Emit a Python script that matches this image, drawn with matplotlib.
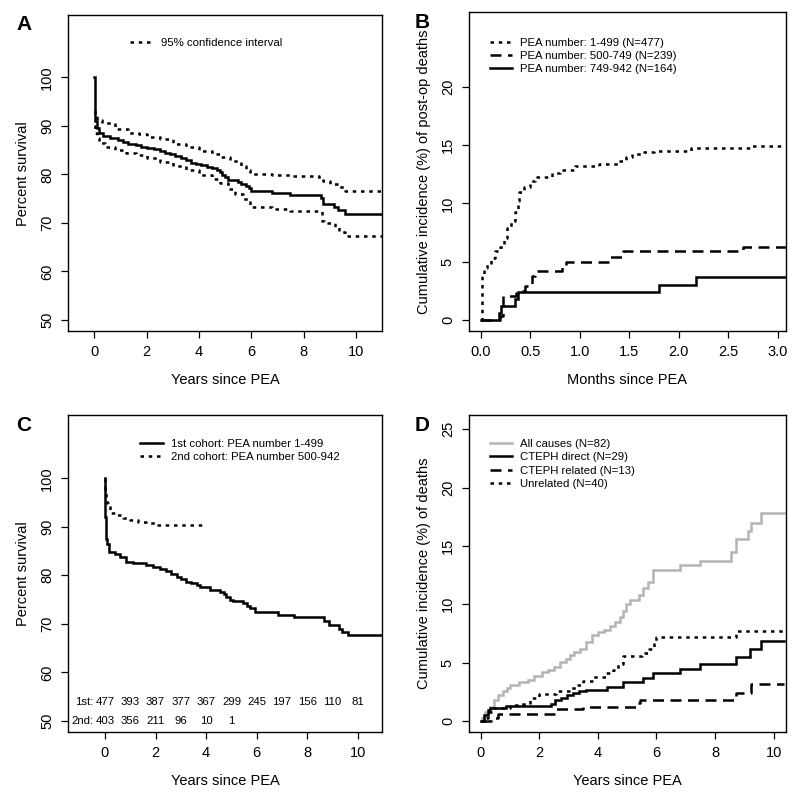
import matplotlib
matplotlib.use("Agg")
import matplotlib.pyplot as plt
from matplotlib.lines import Line2D

plt.rcParams["font.family"] = ["Liberation Sans", "DejaVu Sans"]

# ---- Panel A: overall survival with 95% CI (years)
a_t = [0, 0.02, 0.05, 0.1, 0.2, 0.35, 0.6, 0.9, 1.1, 1.3, 1.6, 1.8, 2.0, 2.3, 2.5,
       2.7, 2.9, 3.1, 3.3, 3.5, 3.7, 3.9, 4.1, 4.3, 4.5, 4.7, 4.8, 4.9, 5.0, 5.1,
       5.3, 5.5, 5.6, 5.8, 5.9, 6.0, 6.8, 7.5, 8.65, 8.75, 9.15, 9.3, 9.6]
a_surv = [100, 94, 91, 89.5, 88.5, 88.0, 87.5, 87.0, 86.6, 86.3, 86.1, 85.7, 85.4,
          85.2, 84.8, 84.4, 84.1, 83.7, 83.3, 82.9, 82.4, 82.1, 81.9, 81.6, 81.3,
          80.9, 80.4, 79.9, 79.4, 78.9, 78.8, 78.4, 78.0, 77.6, 77.2, 76.6, 76.2,
          75.8, 75.1, 74.0, 73.3, 72.6, 71.8]
a_up_t = [0, 0.02, 0.05, 0.1, 0.3, 0.8, 1.3, 1.7, 2.0, 2.5, 3.0, 3.5, 4.0, 4.5, 4.8,
          5.2, 5.6, 5.8, 5.95, 6.8, 7.5, 8.6, 8.75, 9.0, 9.3, 9.6]
a_up = [93, 93, 92.3, 91.2, 90.5, 89.3, 88.6, 88.4, 87.7, 87.2, 86.3, 85.6, 84.9,
        84.2, 83.6, 82.8, 81.8, 81.0, 80.1, 79.8, 79.6, 79.1, 78.6, 78.1, 77.3, 76.5]
a_lo_t = [0, 0.05, 0.1, 0.2, 0.4, 0.8, 1.2, 1.6, 2.0, 2.5, 3.0, 3.5, 4.0, 4.5, 4.8,
          5.1, 5.4, 5.7, 5.95, 6.8, 7.5, 8.7, 8.8, 9.2, 9.35, 9.6]
a_lo = [90, 88.5, 87.5, 86.5, 85.6, 85.0, 84.4, 83.9, 83.3, 82.5, 81.7, 80.8, 79.9,
        79.0, 78.2, 77.0, 76.0, 75.0, 73.3, 72.9, 72.5, 70.3, 70.0, 69.2, 68.2, 67.3]
a_end = 11.0

# ---- Panel B: post-op deaths by PEA number (months)
b1_t = [0, 0.01, 0.03, 0.06, 0.1, 0.14, 0.2, 0.24, 0.27, 0.31, 0.35, 0.38, 0.39,
        0.44, 0.5, 0.55, 0.72, 0.8, 0.95, 1.2, 1.4, 1.47, 1.53, 1.62, 1.75, 2.12, 2.73]
b1_v = [0, 3.8, 4.5, 4.8, 5.3, 5.9, 6.3, 7.0, 7.9, 8.5, 9.3, 10.2, 11.0, 11.4, 11.9,
        12.3, 12.6, 12.9, 13.2, 13.4, 13.6, 13.95, 14.2, 14.4, 14.5, 14.72, 14.95]
b2_t = [0, 0.2, 0.225, 0.36, 0.37, 0.45, 0.52, 0.55, 0.82, 0.86, 1.3, 1.44, 2.65]
b2_v = [0, 0.4, 2.1, 2.3, 2.5, 2.9, 3.8, 4.2, 4.6, 5.0, 5.45, 5.9, 6.3]
b3_t = [0, 0.19, 0.21, 0.35, 0.38, 1.8, 2.17]
b3_v = [0, 0.6, 1.2, 1.8, 2.4, 3.0, 3.7]
b_end = 3.08
b_labels = ["PEA number: 1-499 (N=477)", "PEA number: 500-749 (N=239)",
            "PEA number: 749-942 (N=164)"]

# ---- Panel C: survival by cohort (years)
c1_t = [0, 0.01, 0.03, 0.06, 0.1, 0.18, 0.4, 0.6, 0.85, 1.1, 1.64, 1.9, 2.17, 2.43,
        2.6, 2.83, 3.0, 3.22, 3.4, 3.62, 3.75, 4.15, 4.54, 4.7, 4.8, 4.95, 5.07,
        5.47, 5.6, 5.73, 5.93, 6.82, 7.47, 8.65, 8.84, 9.25, 9.35, 9.6]
c1_v = [100, 92, 88.7, 87.5, 86.4, 84.9, 84.4, 83.8, 82.8, 82.5, 82.2, 81.8, 81.3,
        80.8, 80.2, 79.7, 79.2, 78.7, 78.4, 78.0, 77.5, 77.0, 76.5, 76.1, 75.6, 75.0,
        74.6, 74.2, 73.7, 73.2, 72.4, 71.9, 71.4, 70.6, 69.8, 68.9, 68.4, 67.7]
c1_end = 10.95
c2_t = [0, 0.01, 0.03, 0.08, 0.12, 0.2, 0.4, 0.7, 1.0, 1.3, 1.64, 2.0]
c2_v = [100, 97.5, 96.2, 95, 94.2, 92.8, 92.4, 91.9, 91.4, 91.0, 90.7, 90.4]
c2_end = 4.0
c_labels = ["1st cohort: PEA number 1-499", "2nd cohort: PEA number 500-942"]
risk_years1 = list(range(11))
risk1 = [477, 393, 387, 377, 367, 299, 245, 197, 156, 110, 81]
risk_years2 = list(range(6))
risk2 = [403, 356, 211, 96, 10, 1]
risk_rows = ["1st:", "2nd:"]
risk_y = [53.8, 49.9]

# ---- Panel D: cause of death (years)
d_all_t = [0, 0.05, 0.15, 0.3, 0.45, 0.6, 0.75, 0.9, 1.0, 1.3, 1.6, 1.8, 2.1, 2.3,
           2.5, 2.7, 2.9, 3.05, 3.2, 3.4, 3.6, 3.8, 4.0, 4.2, 4.4, 4.6, 4.75, 4.85,
           4.95, 5.1, 5.4, 5.55, 5.7, 5.88, 6.79, 7.47, 8.55, 8.73, 9.12, 9.24, 9.58]
d_all_v = [0, 0.3, 0.8, 1.2, 1.8, 2.2, 2.6, 2.8, 3.1, 3.35, 3.5, 3.9, 4.2, 4.4, 4.65,
           5.1, 5.3, 5.65, 5.9, 6.2, 6.8, 7.35, 7.6, 7.8, 8.1, 8.5, 8.9, 9.4, 10.0,
           10.4, 10.8, 11.4, 11.9, 12.9, 13.35, 13.7, 14.5, 15.6, 16.3, 17.0, 17.8]
d_dir_t = [0, 0.1, 0.24, 0.31, 0.87, 2.4, 2.55, 2.75, 2.95, 3.15, 3.35, 3.6, 4.3,
           4.86, 5.54, 5.88, 6.79, 7.47, 8.73, 9.18, 9.58]
d_dir_v = [0, 0.5, 0.94, 1.09, 1.28, 1.5, 1.8, 2.0, 2.2, 2.4, 2.55, 2.65, 2.94, 3.37,
           3.71, 4.08, 4.45, 4.88, 5.5, 6.16, 6.87]
d_rel_t = [0, 0.35, 0.6, 2.55, 3.5, 5.3, 5.45, 8.73, 9.24]
d_rel_v = [0, 0.3, 0.6, 1.0, 1.22, 1.55, 1.8, 2.42, 3.17]
d_unr_t = [0, 0.1, 0.25, 0.42, 1.0, 1.33, 1.67, 2.0, 2.58, 3.04, 3.3, 3.5, 3.83, 4.29,
           4.52, 4.69, 4.86, 5.5, 5.75, 5.9, 6.0, 8.73]
d_unr_v = [0, 0.3, 0.8, 1.1, 1.37, 1.5, 2.0, 2.3, 2.6, 2.8, 3.1, 3.4, 3.8, 4.1, 4.4,
           4.9, 5.6, 5.8, 6.2, 6.8, 7.16, 7.7]
d_end = 10.35
d_labels = ["All causes (N=82)", "CTEPH direct (N=29)", "CTEPH related (N=13)",
            "Unrelated (N=40)"]

LW = 1.8
DOT = (0, (1.4, 1.9))
DASH = (0, (4.4, 2.6))
GREY = "#b4b4b4"
SMALL = 8.2


def km(ax, t, v, end, **kw):
    ax.step(list(t) + [end], list(v) + [v[-1]], where="post", lw=LW,
            solid_joinstyle="miter", **kw)


def style(ax, xlim, ylim, xticks, yticks, xlabel, ylabel, xfmt=None):
    ax.set_xlim(*xlim)
    ax.set_ylim(*ylim)
    ax.set_xticks(xticks)
    ax.set_yticks(yticks)
    if xfmt:
        ax.set_xticklabels([xfmt.format(x) for x in xticks])
    ax.tick_params(direction="out", length=5, width=0.9, labelsize=10.5, pad=5)
    ax.tick_params(axis="y", labelrotation=90)
    for lab in ax.get_yticklabels():
        lab.set_va("center")
    for s in ax.spines.values():
        s.set_linewidth(1.0)
    ax.set_xlabel(xlabel, fontsize=10.5, labelpad=10)
    ax.set_ylabel(ylabel, fontsize=10.5, labelpad=7)


def legend(ax, handles, labels, x, y):
    ax.legend(handles, labels, loc="upper left", bbox_to_anchor=(x, y),
              frameon=False, fontsize=SMALL, handlelength=2.0, handletextpad=0.7,
              labelspacing=0.3, borderpad=0, borderaxespad=0)


fig = plt.figure(figsize=(8, 7.98), dpi=100)
axA = fig.add_axes([0.085, 0.585, 0.3925, 0.396])
axB = fig.add_axes([0.586, 0.585, 0.396, 0.400])
axC = fig.add_axes([0.085, 0.0827, 0.3925, 0.397])
axD = fig.add_axes([0.586, 0.0827, 0.396, 0.397])

# A
km(axA, a_up_t, a_up, a_end, color="black", linestyle=DOT)
km(axA, a_lo_t, a_lo, a_end, color="black", linestyle=DOT)
km(axA, a_t, a_surv, a_end, color="black")
style(axA, (-1.0, 11.0), (47.7, 112.8), range(0, 11, 2), range(50, 101, 10),
      "Years since PEA", "Percent survival")
legend(axA, [Line2D([], [], color="black", lw=LW, linestyle=DOT)],
       ["95% confidence interval"], 0.197, 0.928)

# B
km(axB, b1_t, b1_v, b_end, color="black", linestyle=DOT)
km(axB, b2_t, b2_v, b_end, color="black", linestyle=DASH)
km(axB, b3_t, b3_v, b_end, color="black")
style(axB, (-0.12, 3.08), (-0.94, 26.4), [0, 0.5, 1.0, 1.5, 2.0, 2.5, 3.0],
      range(0, 21, 5), "Months since PEA",
      "Cumulative incidence (%) of post-op deaths", xfmt="{:.1f}")
legend(axB, [Line2D([], [], color="black", lw=LW, linestyle=s) for s in (DOT, DASH, "-")],
       b_labels, 0.066, 0.92)

# C
km(axC, c1_t, c1_v, c1_end, color="black")
km(axC, c2_t, c2_v, c2_end, color="black", linestyle=DOT)
style(axC, (-1.46, 10.95), (47.7, 113.0), range(0, 11, 2), range(50, 101, 10),
      "Years since PEA", "Percent survival")
legend(axC, [Line2D([], [], color="black", lw=LW, linestyle=s) for s in ("-", DOT)],
       c_labels, 0.229, 0.925)
for row, yy, xs, ns in zip(risk_rows, risk_y, [risk_years1, risk_years2], [risk1, risk2]):
    axC.text(-0.45, yy, row, ha="right", va="center", fontsize=SMALL)
    for x, n in zip(xs, ns):
        axC.text(x, yy, str(n), ha="center", va="center", fontsize=SMALL)

# D
km(axD, d_all_t, d_all_v, d_end, color=GREY)
km(axD, d_dir_t, d_dir_v, d_end, color="black")
km(axD, d_rel_t, d_rel_v, d_end, color="black", linestyle=DASH)
km(axD, d_unr_t, d_unr_v, d_end, color="black", linestyle=DOT)
style(axD, (-0.41, 10.41), (-0.94, 26.2), range(0, 11, 2), range(0, 26, 5),
      "Years since PEA", "Cumulative incidence (%) of deaths")
legend(axD, [Line2D([], [], color=c, lw=LW, linestyle=s)
             for c, s in ((GREY, "-"), ("black", "-"), ("black", DASH), ("black", DOT))],
       d_labels, 0.066, 0.925)

for lab, x, y in [("A", 24, 24), ("B", 422, 22), ("C", 24, 425), ("D", 422, 425)]:
    fig.text(x / 800, 1 - y / 798, lab, ha="center", va="center",
             fontsize=15, fontweight="bold")

fig.savefig("out.png", dpi=100)
